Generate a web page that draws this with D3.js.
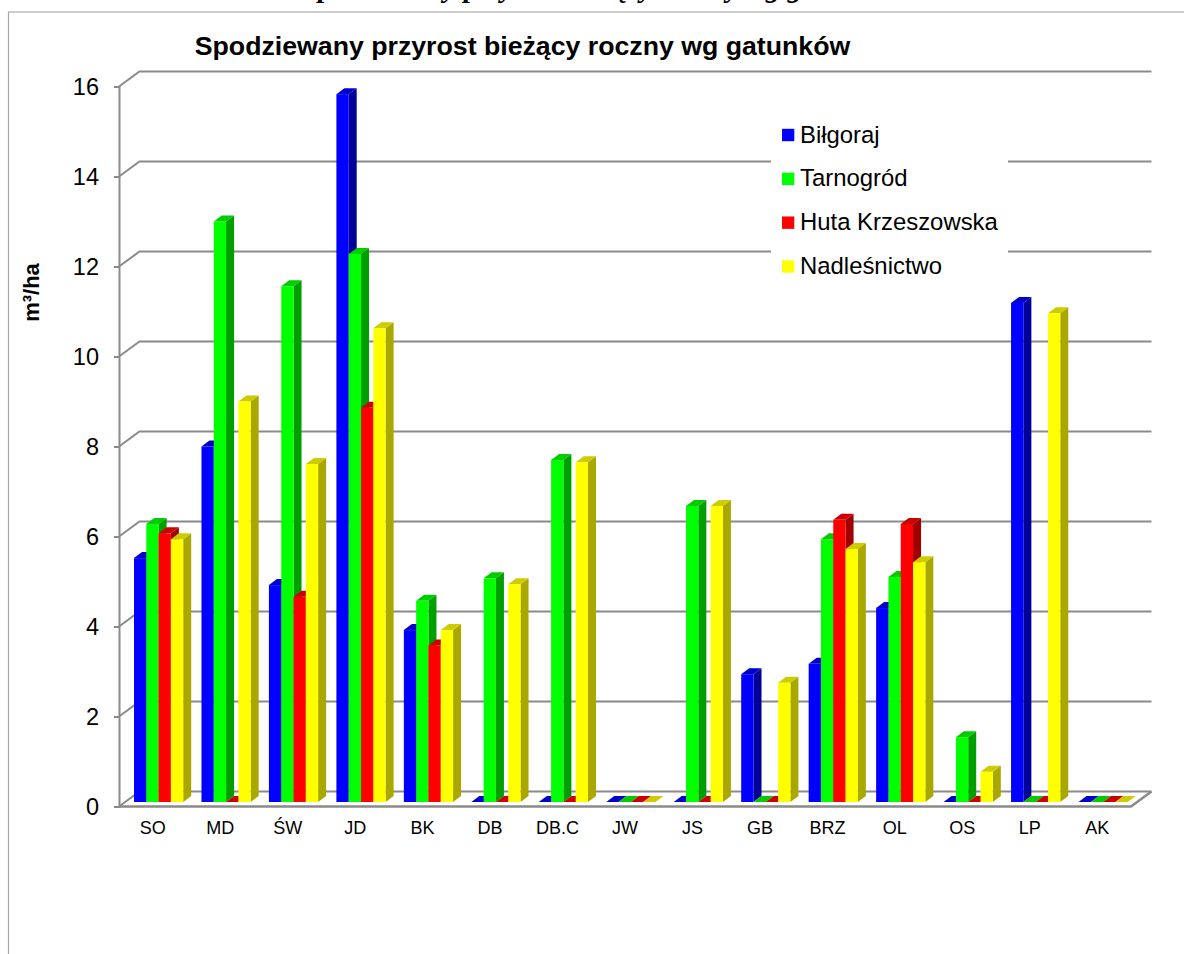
<!DOCTYPE html>
<html>
<head>
<meta charset="utf-8">
<style>
    html, body { margin: 0; padding: 0; background: #fff; overflow: hidden; }
    svg { display: block; }
    text { font-family: "Liberation Sans", Arial, sans-serif; fill: #000; }
</style>
<script src="https://cdn.jsdelivr.net/npm/d3@7/dist/d3.min.js"></script>
</head>
<body>
<div id="chart"></div>
<script>
var categories = ['SO', 'MD', 'ŚW', 'JD', 'BK', 'DB', 'DB.C', 'JW', 'JS', 'GB', 'BRZ', 'OL', 'OS', 'LP', 'AK'];
var seriesNames = ['Biłgoraj', 'Tarnogród', 'Huta Krzeszowska', 'Nadleśnictwo'];
var bilgoraj = [5.42, 7.9, 4.82, 15.73, 3.82, 0, 0, 0, 0, 2.84, 3.07, 4.31, 0, 11.09, 0];
var tarnogrod = [6.18, 12.9, 11.46, 12.18, 4.47, 4.97, 7.6, 0, 6.58, 0, 5.84, 5.0, 1.44, 0, 0];
var hutaKrzeszowska = [5.97, 0, 4.56, 8.76, 3.48, 0, 0, 0, 0, 0, 6.27, 6.18, 0, 0, 0];
var nadlesnictwo = [5.84, 8.9, 7.51, 10.53, 3.82, 4.84, 7.55, 0, 6.58, 2.65, 5.62, 5.33, 0.67, 10.86, 0];
var yTicks = [0, 2, 4, 6, 8, 10, 12, 14, 16];
var frontColors = ['#0000ff', '#00ff00', '#ff0000', '#ffff00'];
var sideColors = ['#000099', '#009f00', '#a00000', '#a8a800'];
var topColors = ['#0000cc', '#00cc00', '#cc0000', '#cccc00'];

var seriesValues = [bilgoraj, tarnogrod, hutaKrzeszowska, nadlesnictwo];
var gridColor = '#8a8a8a';

var svg = d3.select('#chart').append('svg').attr('width', 1184).attr('height', 954);

// Frame of the pasted chart and the caption cut by the page top
svg.append('text').attr('x', 302).attr('y', -3)
    .style('font-family', '"Liberation Serif", serif')
    .style('font-style', 'italic').style('font-weight', 'bold').style('font-size', '29px')
    .text('Spodziewany przyrost bieżący roczny wg gatunków');
svg.append('line').attr('x1', 8).attr('x2', 1184).attr('y1', 12).attr('y2', 12)
    .attr('stroke', '#bdbdbd').attr('stroke-width', 1.5);
svg.append('line').attr('x1', 8.5).attr('x2', 8.5).attr('y1', 12).attr('y2', 954)
    .attr('stroke', '#a6a6a6').attr('stroke-width', 1.2);

var x = d3.scaleBand().domain(categories).range([119, 1131]);
var y = d3.scaleLinear().domain([0, 16]).range([806.5, 86.5]);
var sub = d3.scaleBand().domain(d3.range(4)).range([0, 49.2]);

var backX = 20.5, backY = -15;     // floor depth
var barDepthX = 8, barDepthY = -6;
var barInset = 15, barLift = 4.5;

// walls and gridlines
var grid = svg.append('g');
yTicks.forEach(function (t) {
    grid.append('polyline')
        .attr('points', [[119, y(t)], [119 + backX, y(t) + backY], [1131 + backX, y(t) + backY]].join(' '))
        .attr('fill', 'none').attr('stroke', gridColor).attr('stroke-width', 2);
});
grid.append('polyline')
    .attr('points', [[119, y(0)], [1131, y(0)], [1131 + backX, y(0) + backY]].join(' '))
    .attr('fill', 'none').attr('stroke', gridColor).attr('stroke-width', 2.5);

var yAxis = d3.axisLeft(y).tickValues(yTicks).tickSize(5).tickPadding(15);
var yG = svg.append('g').attr('transform', 'translate(119,0)').call(yAxis);
yG.selectAll('path, line').attr('stroke', gridColor).attr('stroke-width', 2);
yG.selectAll('text').style('font-size', '23.5px').style('font-family', '"Liberation Sans"');

var xAxis = d3.axisBottom(x).tickSize(0).tickPadding(15);
var xG = svg.append('g').attr('transform', 'translate(0,' + y(0) + ')').call(xAxis);
xG.select('.domain').remove();
xG.selectAll('text').style('font-size', '18px').style('font-family', '"Liberation Sans"');

// bars, left to right so each front face hides the neighbour's side
categories.forEach(function (cat, c) {
    seriesValues.forEach(function (values, s) {
        var v = values[c];
        var x0 = x(cat) + barInset + sub(s);
        var x1 = x0 + sub.bandwidth();
        var yTop = y(v) - barLift;
        var yBase = y(0) - barLift;
        var g = svg.append('g');
        g.append('polygon')
            .attr('points', [[x1, yTop], [x1 + barDepthX, yTop + barDepthY], [x1 + barDepthX, yBase + barDepthY], [x1, yBase]].join(' '))
            .attr('fill', sideColors[s]);
        g.append('polygon')
            .attr('points', [[x0, yTop], [x0 + barDepthX, yTop + barDepthY], [x1 + barDepthX, yTop + barDepthY], [x1, yTop]].join(' '))
            .attr('fill', topColors[s]);
        g.append('rect')
            .attr('x', x0).attr('y', yTop)
            .attr('width', sub.bandwidth()).attr('height', yBase - yTop)
            .attr('fill', frontColors[s]);
    });
});

// titles
svg.append('text').attr('x', 522.5).attr('y', 54.5).attr('text-anchor', 'middle')
    .style('font-size', '26.7px').style('font-weight', 'bold')
    .text('Spodziewany przyrost bieżący roczny wg gatunków');
svg.append('text').attr('transform', 'translate(39,292.5) rotate(-90)').attr('text-anchor', 'middle')
    .style('font-size', '22px').style('font-weight', 'bold')
    .text('m³/ha');

// legend
var legendTop = d3.scalePoint().domain(seriesNames).range([135, 266.5]);
svg.append('rect').attr('x', 771).attr('y', 100).attr('width', 237).attr('height', 190).attr('fill', '#fff');
seriesNames.forEach(function (name, s) {
    svg.append('rect').attr('x', 782).attr('y', legendTop(name) - 6.2)
        .attr('width', 12.3).attr('height', 12.4).attr('fill', frontColors[s]);
    svg.append('text').attr('x', 800).attr('y', legendTop(name) + 7.5)
        .style('font-size', '23.9px').text(name);
});
</script>
</body>
</html>
